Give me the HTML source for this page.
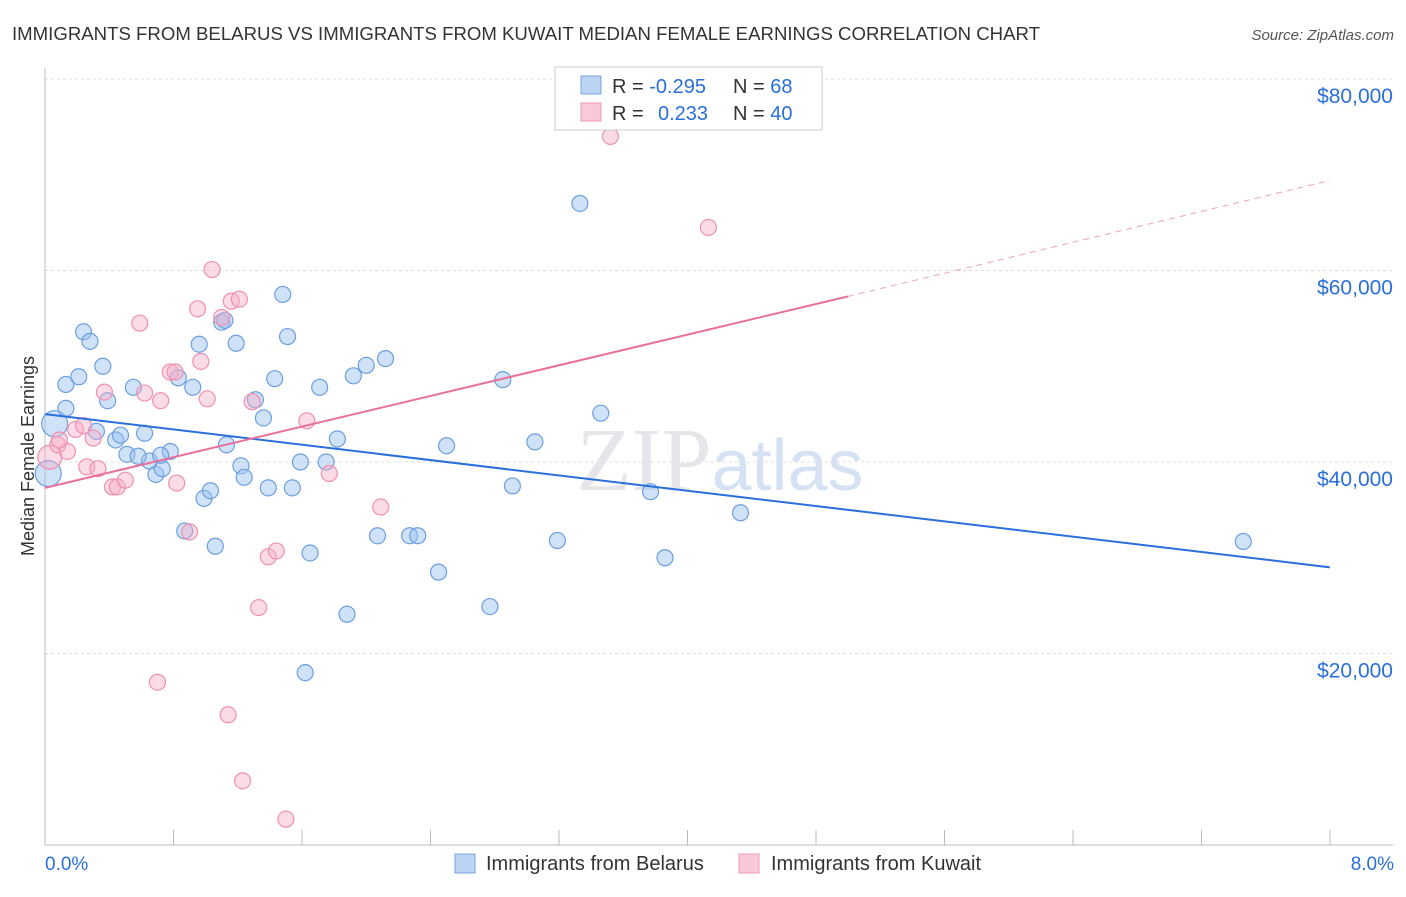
<!DOCTYPE html>
<html><head><meta charset="utf-8"><style>
body{margin:0;background:#fff;font-family:"Liberation Sans",sans-serif}
</style></head><body>
<svg width="1406" height="892" xmlns="http://www.w3.org/2000/svg" font-family="Liberation Sans, sans-serif">
<text x="12" y="40" font-size="18.5" fill="#333" textLength="1028" lengthAdjust="spacingAndGlyphs">IMMIGRANTS FROM BELARUS VS IMMIGRANTS FROM KUWAIT MEDIAN FEMALE EARNINGS CORRELATION CHART</text>
<text x="1394" y="40" font-size="15" fill="#555" text-anchor="end" font-style="italic">Source: ZipAtlas.com</text>
<g id="grid"></g>
<text x="720" y="490" font-size="90" fill="#e6e6ea" text-anchor="middle" font-family="Liberation Serif, serif">ZIP<tspan fill="#d5e2f3" font-family="Liberation Sans, sans-serif" font-size="72">atlas</tspan></text>
<text transform="translate(34,456) rotate(-90)" font-size="18" fill="#333" text-anchor="middle">Median Female Earnings</text>
<g id="pts"></g>
<g id="lines"></g>
<g>
<rect x="555" y="67" width="267" height="63" fill="#fff" stroke="#ccc"/>
<rect x="581" y="76" width="20" height="18" fill="#bcd4f3" stroke="#7aa6e3"/>
<rect x="581" y="103" width="20" height="18" fill="#f9c9d7" stroke="#f09ab6"/>
<text x="612" y="93" font-size="20" fill="#333">R = <tspan fill="#2a6fdb">-0.295</tspan><tspan x="733">N = </tspan><tspan fill="#2a6fdb">68</tspan></text>
<text x="612" y="120" font-size="20" fill="#333">R = <tspan fill="#2a6fdb" x="658">0.233</tspan><tspan x="733">N = </tspan><tspan fill="#2a6fdb">40</tspan></text>
</g>
<g>
<rect x="455" y="854" width="20" height="19" fill="#bcd4f3" stroke="#7aa6e3"/>
<text x="486" y="870" font-size="20" fill="#333">Immigrants from Belarus</text>
<rect x="739" y="854" width="20" height="19" fill="#f9c9d7" stroke="#f09ab6"/>
<text x="771" y="870" font-size="20" fill="#333">Immigrants from Kuwait</text>
</g>
<text x="45" y="870" font-size="19" fill="#2a6fdb">0.0%</text>
<text x="1394" y="870" font-size="19" fill="#2a6fdb" text-anchor="end">8.0%</text>
</svg>
<script>
const NS="http://www.w3.org/2000/svg";
const yTicks=[20000,40000,60000,80000];
const yTickLabels=["$20,000","$40,000","$60,000","$80,000"];
const belarusX=[0.06,0.02,0.13,0.13,0.24,0.28,0.21,0.36,0.39,0.32,0.44,0.47,0.51,0.55,0.62,0.65,0.69,0.73,0.78,0.83,0.87,0.92,0.99,1.03,1.06,1.10,1.13,1.19,1.22,1.24,1.31,1.36,1.39,1.43,1.48,1.51,1.54,1.59,1.65,1.71,1.75,1.82,1.88,1.92,2.00,2.07,2.12,2.27,2.32,2.45,2.50,2.77,2.85,2.91,3.05,3.19,3.33,3.46,3.77,3.86,4.33,7.46,1.62,0.58,0.72,1.12,0.96];
const belarusY=[44000,38800,45600,48100,53600,52600,48900,50000,46400,43200,42300,42800,40800,47800,43000,40100,38700,39300,41100,48800,32800,47800,36200,37000,31200,54600,41800,52400,39600,38400,46500,44600,37300,48700,57500,53100,37300,40000,30500,47800,40000,42400,24100,49000,50100,32300,50800,32300,32300,28500,41700,24900,48600,37500,42100,31800,67000,45100,36900,30000,34700,31700,18000,40600,40700,54800,52300];
const kuwaitX=[0.03,0.08,0.14,0.19,0.24,0.30,0.26,0.33,0.37,0.42,0.45,0.50,0.59,0.62,0.72,0.70,0.78,0.82,0.90,0.95,0.97,1.01,1.04,1.10,1.14,1.16,1.21,1.23,1.29,1.33,1.39,1.44,1.50,1.63,1.77,2.09,3.52,4.13,0.81,0.09];
const kuwaitY=[40500,41800,41100,43400,43800,42500,39500,39300,47300,37400,37400,38100,54500,47200,46400,17000,49400,37800,32700,56000,50500,46600,60100,55100,13600,56800,57000,6700,46300,24800,30100,30700,2700,44300,38800,35300,74000,64500,49400,42300];
const bigBel=[0,1],bigKuw=[0];
const beLine=[[0,45000],[8,29000]];
const kwLine=[[0,37300],[5,57300]];
const kwDash=[[5,57300],[8,69400]];
const X=v=>45+v/8*1285, Y=v=>845-v/20000*191.5;
function mk(t,a,p){const e=document.createElementNS(NS,t);for(const k in a)e.setAttribute(k,a[k]);p.appendChild(e);return e;}
const grid=document.getElementById('grid');
yTicks.forEach((t,i)=>{
 const l=mk('line',{x1:45,x2:1393,y1:Y(t),y2:Y(t),stroke:'#ddd','stroke-dasharray':'3,3'},grid);
 
 
 const tx=mk('text',{x:1393,y:Y(t)+24,'font-size':21,fill:'#2a6fdb','text-anchor':'end'},grid);
 tx.textContent=yTickLabels[i];
 
 
});
const ax=mk('line',{x1:45,x2:1393,y1:845,y2:845,stroke:'#bbb'},grid);


mk('line',{x1:45,x2:45,y1:68,y2:845,stroke:'#bbb'},grid);
for(let i=0;i<=10;i++){const t=mk('line',{x1:X(i*0.8),x2:X(i*0.8),y1:830,y2:845,stroke:'#bbb'},grid);
 
 }
const pts=document.getElementById('pts');
belarusX.forEach((x,i)=>{const c=mk('circle',{cx:X(x),cy:Y(belarusY[i]),r:bigBel.includes(i)?13:8,fill:'rgba(150,190,240,0.45)',stroke:'#6b9fe0','stroke-width':1.2},pts);
 
 });
kuwaitX.forEach((x,i)=>{const c=mk('circle',{cx:X(x),cy:Y(kuwaitY[i]),r:bigKuw.includes(i)?12:8,fill:'rgba(245,175,200,0.45)',stroke:'#ef90b2','stroke-width':1.2},pts);
 
 });
const lines=document.getElementById('lines');
const b=mk('line',{x1:X(beLine[0][0]),y1:Y(beLine[0][1]),x2:X(beLine[1][0]),y2:Y(beLine[1][1]),stroke:'#2a6fdb','stroke-width':2},lines);


const k=mk('line',{x1:X(kwLine[0][0]),y1:Y(kwLine[0][1]),x2:X(kwLine[1][0]),y2:Y(kwLine[1][1]),stroke:'#e8709a','stroke-width':2},lines);


const kd=mk('line',{x1:X(kwDash[0][0]),y1:Y(kwDash[0][1]),x2:X(kwDash[1][0]),y2:Y(kwDash[1][1]),stroke:'#eea0bb','stroke-width':1,'stroke-dasharray':'6,5'},lines);


</script>
</body></html>
